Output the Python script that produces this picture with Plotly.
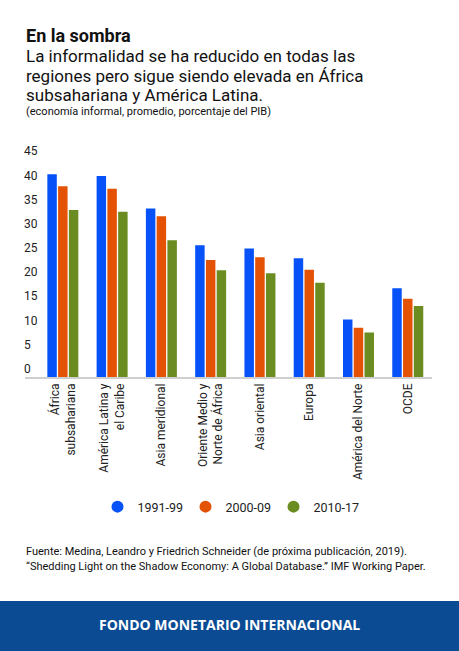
import plotly.graph_objects as go

W, H = 459, 651

regions = [
    "África<br>subsahariana",
    "América Latina y<br>el Caribe",
    "Asia meridional",
    "Oriente Medio y<br>Norte de África",
    "Asia oriental",
    "Europa",
    "América del Norte",
    "OCDE",
]
periods = ["1991-99", "2000-09", "2010-17"]
colors = ["#0652f8", "#e35205", "#6a8c20"]

v_1991_99 = [42.0, 41.6, 34.9, 27.3, 26.6, 24.6, 11.9, 18.4]
v_2000_09 = [39.5, 39.0, 33.3, 24.2, 24.8, 22.2, 10.2, 16.2]
v_2010_17 = [34.6, 34.2, 28.3, 22.1, 21.5, 19.5, 9.2, 14.7]
series = [v_1991_99, v_2000_09, v_2010_17]

y_ticks = [0, 5, 10, 15, 20, 25, 30, 35, 40, 45]


def py(px):
    # pixel from top -> paper y
    return 1 - px / H


def px_x(px):
    return px / W


fig = go.Figure()

for name, vals, col in zip(periods, series, colors):
    fig.add_trace(go.Bar(
        x=regions, y=vals, name=name,
        marker=dict(color=col, line=dict(width=0)),
        showlegend=False,
    ))
    # circle markers for the legend
    fig.add_trace(go.Scatter(
        x=[None], y=[None], mode="markers", name=name,
        marker=dict(color=col, size=13, symbol="circle"),
    ))

left, right = 25, 432.4
band = 49.3
x_lo = -0.5 - (38.2 - left) / band
y_top = 49
plot_top = 377 - y_top * 4.83

fig.update_layout(
    width=W, height=H,
    margin=dict(l=0, r=0, t=0, b=0),
    paper_bgcolor="white", plot_bgcolor="white",
    font=dict(family="Roboto", color="#222"),
    barmode="group", bargap=0.345, bargroupgap=0.12,
    xaxis=dict(
        domain=[px_x(left), px_x(right)],
        range=[x_lo, 7.5],
        tickangle=-90,
        tickfont=dict(size=12, color="#222"),
        showline=True, linecolor="#cfcfcf", linewidth=1.5,
        showgrid=False, ticks="", fixedrange=True,
    ),
    yaxis=dict(
        domain=[py(377), py(plot_top)],
        range=[0, y_top],
        tickvals=y_ticks,
        ticklabelposition="inside top",
        ticklabelstandoff=-4,
        tickfont=dict(size=12, color="#222"),
        showgrid=False, zeroline=False, showline=False, ticks="",
    ),
    legend=dict(
        orientation="h", x=0.5, xanchor="center",
        y=py(507), yanchor="middle",
        font=dict(size=12.5, color="#222"),
        itemsizing="constant", traceorder="normal",
        entrywidth=43,
    ),
)

texts = [
    ("En la sombra", 18, "bold", 42.3),
    ("La informalidad se ha reducido en todas las", 17, "normal", 62.3),
    ("regiones pero sigue siendo elevada en África", 17, "normal", 82),
    ("subsahariana y América Latina.", 17, "normal", 101.5),
    ("(economía informal, promedio, porcentaje del PIB)", 11, "normal", 115),
    ("Fuente: Medina, Leandro y Friedrich Schneider (de próxima publicación, 2019).", 11, "normal", 555),
    ("“Shedding Light on the Shadow Economy: A Global Database.” IMF Working Paper.", 11, "normal", 570),
]
for t, size, weight, base in texts:
    fig.add_annotation(
        text=t, xref="paper", yref="paper",
        x=px_x(24), xanchor="left",
        y=py(base - 0.36 * size), yanchor="middle",
        showarrow=False,
        font=dict(size=size, weight=weight, color="#111"),
    )

fig.add_shape(
    type="rect", xref="paper", yref="paper",
    x0=0, x1=1, y0=0, y1=py(601),
    fillcolor="#0a4b94", line=dict(width=0), layer="below",
)
fig.add_annotation(
    text="FONDO MONETARIO INTERNACIONAL", xref="paper", yref="paper",
    x=0.5, y=py(624), xanchor="center", yanchor="middle", showarrow=False,
    font=dict(family="Open Sans", size=14, weight="bold", color="white"),
)

fig.write_html(
    "out.html",
    config={"displayModeBar": False},
    post_script="document.body.style.margin='0';",
)
